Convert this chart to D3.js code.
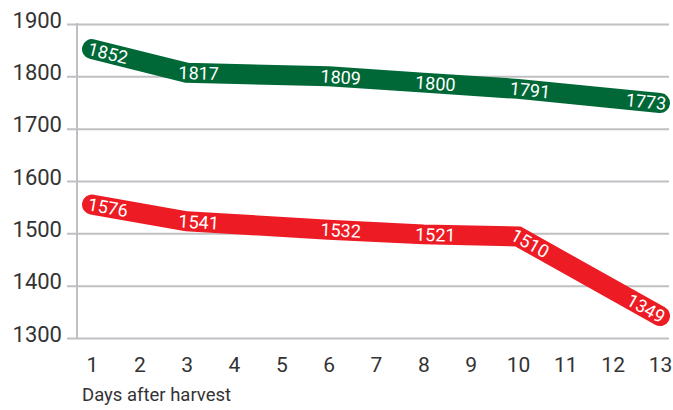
<!DOCTYPE html>
<html>
<head>
<meta charset="utf-8">
<script src="https://cdn.jsdelivr.net/npm/d3@7"></script>
<style>
  body { margin: 0; background: #fff; }
  text { font-family: Roboto, "Liberation Sans", sans-serif; }
</style>
</head>
<body>
<div id="vis"></div>
<script>
// set the width and height
var width = 673;
var height = 410;

var days = [1, 3, 6, 8, 10, 13];
var dayTicks = [1, 2, 3, 4, 5, 6, 7, 8, 9, 10, 11, 12, 13];
var yTicks = [1300, 1400, 1500, 1600, 1700, 1800, 1900];

// values as printed on the lines
var greenLabels = [1852, 1817, 1809, 1800, 1791, 1773];
var redLabels = [1576, 1541, 1532, 1521, 1510, 1349];

// where the lines sit against the axis in the picture
var greenLine = [1852, 1807, 1800, 1788, 1776, 1749];
var redLine = [1555, 1523, 1507, 1498, 1494, 1342];

var xLabel = 'Days after harvest';

var svg = d3.select('#vis')
    .append('svg')
    .attr('width', width)
    .attr('height', height);

var x_scale = d3.scaleLinear()
    .domain([1, 13])
    .range([92, 660]);

var y_scale = d3.scaleLinear()
    .domain([1300, 1900])
    .range([338, 24]);

// grid lines + y labels
var y_axis = d3.axisLeft(y_scale)
    .tickValues(yTicks)
    .tickFormat(d3.format('d'))
    .tickSize(-602)
    .tickPadding(5);

var gy = svg.append('g')
    .attr('class', 'y axis')
    .attr('transform', 'translate(67,0)')
    .call(y_axis);

gy.select('.domain').remove();
gy.selectAll('line')
    .attr('stroke', '#bfc0c3')
    .attr('stroke-width', 2);
gy.selectAll('text')
    .attr('dy', '3')
    .attr('fill', '#333')
    .style('font-size', '22px');

// vertical axis line
svg.append('line')
    .attr('x1', 77)
    .attr('x2', 77)
    .attr('y1', y_scale(1900) - 1)
    .attr('y2', y_scale(1300) + 1)
    .attr('stroke', '#bfc0c3')
    .attr('stroke-width', 2);

var x_axis = d3.axisBottom(x_scale)
    .tickValues(dayTicks)
    .tickFormat(d3.format('d'))
    .tickSize(0)
    .tickPadding(19);

var gx = svg.append('g')
    .attr('class', 'x axis')
    .attr('transform', 'translate(0,' + y_scale(1300) + ')')
    .call(x_axis);

gx.select('.domain').remove();
gx.selectAll('text')
    .attr('fill', '#333')
    .style('font-size', '21px');

svg.append('text')
    .attr('x', 82)
    .attr('y', 401)
    .attr('fill', '#333')
    .style('font-size', '18.5px')
    .text(xLabel);

var line = d3.line()
    .x(function(d) { return x_scale(d[0]); })
    .y(function(d) { return y_scale(d[1]); });

function drawSeries(vals, labels, colour) {
    var pts = days.map(function(d, i) { return [d, vals[i]]; });

    svg.append('path')
        .datum(pts)
        .attr('d', line)
        .attr('fill', 'none')
        .attr('stroke', colour)
        .attr('stroke-width', 20)
        .attr('stroke-linecap', 'round')
        .attr('stroke-linejoin', 'miter');

    var px = pts.map(function(p) { return [x_scale(p[0]), y_scale(p[1])]; });
    var last = px.length - 1;

    svg.selectAll(null)
        .data(labels)
        .enter()
        .append('text')
        .attr('transform', function(d, i) {
            var off = i === last ? -14 : (i === 0 ? 16 : 12);
            var lx = px[i][0] + off;
            var s = 0;
            while (s < last - 1 && lx > px[s + 1][0]) s++;
            var a = px[s], b = px[s + 1];
            var t = (lx - a[0]) / (b[0] - a[0]);
            var ly = a[1] + t * (b[1] - a[1]);
            var ang = Math.atan2(b[1] - a[1], b[0] - a[0]) * 180 / Math.PI;
            return 'translate(' + lx + ',' + ly + ') rotate(' + ang + ')';
        })
        .attr('dy', '0.36em')
        .attr('text-anchor', 'middle')
        .attr('fill', '#fff')
        .style('font-size', '18px')
        .text(function(d) { return d; });
}

drawSeries(greenLine, greenLabels, '#006837');
drawSeries(redLine, redLabels, '#ed1c24');
</script>
</body>
</html>
